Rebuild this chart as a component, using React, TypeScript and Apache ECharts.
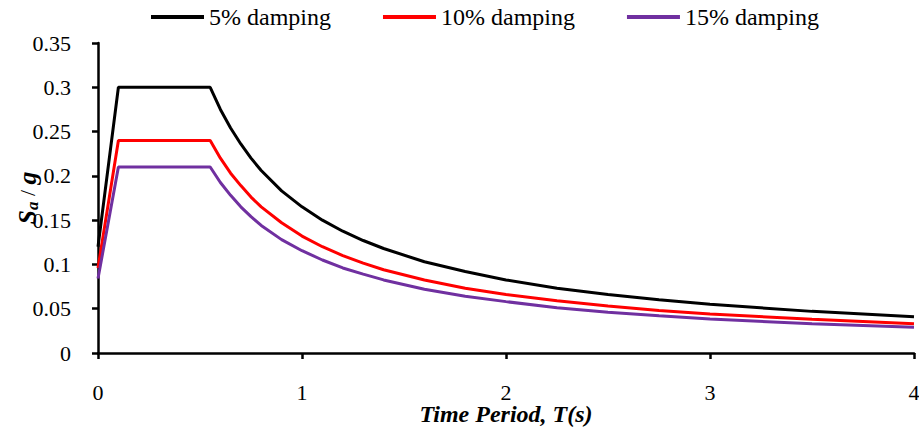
import React, { useEffect, useRef } from "react";
import * as echarts from "echarts";

const periods = [0, 0.1, 0.55, 0.6, 0.65, 0.7, 0.75, 0.8, 0.9, 1.0, 1.1, 1.2, 1.3, 1.4, 1.6, 1.8, 2.0, 2.25, 2.5, 2.75, 3.0, 3.5, 4.0];
const damping5 = [0.12, 0.3, 0.3, 0.275, 0.254, 0.236, 0.22, 0.206, 0.183, 0.165, 0.15, 0.1375, 0.127, 0.118, 0.103, 0.092, 0.0825, 0.073, 0.066, 0.06, 0.055, 0.047, 0.041];
const damping10 = [0.096, 0.24, 0.24, 0.22, 0.203, 0.189, 0.176, 0.165, 0.147, 0.132, 0.12, 0.11, 0.1015, 0.094, 0.0825, 0.073, 0.066, 0.059, 0.053, 0.048, 0.044, 0.038, 0.033];
const damping15 = [0.084, 0.21, 0.21, 0.1925, 0.178, 0.165, 0.154, 0.144, 0.128, 0.1155, 0.105, 0.096, 0.089, 0.0825, 0.072, 0.064, 0.058, 0.051, 0.046, 0.042, 0.0385, 0.033, 0.029];
const seriesNames = ["5% damping", "10% damping", "15% damping"];
const seriesColors = ["#000000", "#FF0000", "#7030A0"];

const FONT = "Liberation Serif";

export default function App() {
  const ref = useRef<HTMLDivElement>(null);
  useEffect(() => {
    if (!ref.current) return;
    const chart = echarts.init(ref.current, undefined, { renderer: "svg" });
    const all = [damping5, damping10, damping15];
    const option = {
      animation: false,
      backgroundColor: "#ffffff",
      textStyle: { fontFamily: FONT, fontSize: 20 },
      legend: {
        top: 0,
        left: 146,
        itemWidth: 53,
        itemHeight: 4,
        itemGap: 52,
        icon: "rect",
        textStyle: { fontFamily: FONT, fontSize: 24, color: "#000000" },
        data: seriesNames,
      },
      grid: { left: 98, right: 5, top: 43, bottom: 80, containLabel: false, outerBoundsMode: "none" },
      xAxis: {
        type: "value",
        min: 0,
        max: 4,
        interval: 1,
        name: "Time Period, T(s)",
        nameLocation: "middle",
        nameGap: 49,
        nameMoveOverlap: false,
        nameTextStyle: { fontFamily: FONT, fontSize: 24, fontWeight: "bold", fontStyle: "italic", color: "#000000" },
        axisLine: { lineStyle: { color: "#000000", width: 2.5 } },
        axisTick: { show: true, length: 6, lineStyle: { color: "#000000", width: 2.5 } },
        axisLabel: { fontFamily: FONT, fontSize: 22, color: "#000000", margin: 28 },
        splitLine: { show: false },
      },
      yAxis: {
        type: "value",
        min: 0,
        max: 0.35,
        interval: 0.05,
        name: "{s|S}{sub|a}{n| / }{s|g}",
        nameLocation: "middle",
        nameRotate: 90,
        nameGap: 57,
        nameMoveOverlap: false,
        nameTextStyle: {
          color: "#000000",
          rich: {
            s: { fontFamily: FONT, fontSize: 26, fontWeight: "bold", fontStyle: "italic", color: "#000000" },
            sub: { fontFamily: FONT, fontSize: 17, fontWeight: "bold", fontStyle: "italic", color: "#000000", verticalAlign: "bottom", padding: [10, 0, 0, 0] },
            n: { fontFamily: FONT, fontSize: 22, color: "#000000" },
          },
        },
        axisLine: { show: true, lineStyle: { color: "#000000", width: 2.5 } },
        axisTick: { show: true, length: 6, lineStyle: { color: "#000000", width: 2.5 } },
        axisLabel: { fontFamily: FONT, fontSize: 22, color: "#000000", margin: 27 },
        splitLine: { show: false },
      },
      series: seriesNames.map((name, i) => ({
        name,
        type: "line",
        data: periods.map((t, j) => [t, all[i][j]]),
        showSymbol: false,
        symbol: "none",
        smooth: false,
        color: seriesColors[i],
        lineStyle: { color: seriesColors[i], width: 3 },
      })),
    };
    chart.setOption(option as any);
    return () => chart.dispose();
  }, []);
  return (
    <div
      ref={ref}
      style={{ position: "absolute", left: 0, top: 0, width: 919, height: 433 }}
    />
  );
}
